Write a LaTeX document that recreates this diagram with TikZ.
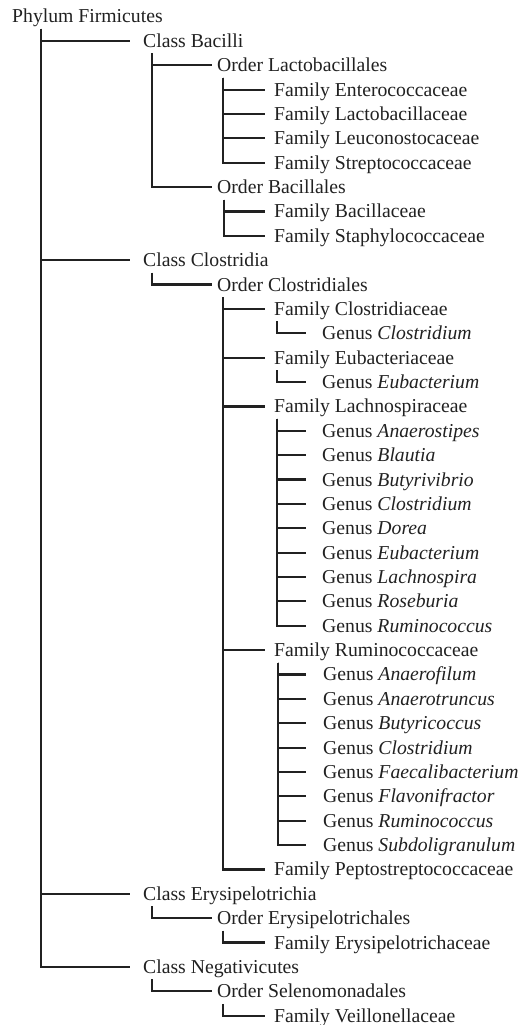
\documentclass[tikz,border=0pt]{standalone}
\usepackage{fontspec}
\setmainfont{Liberation Serif}
\definecolor{ink}{rgb}{0.13,0.13,0.13}
\begin{document}
\begin{tikzpicture}[x=1pt,y=-1pt,
  lbl/.style={anchor=base west,inner sep=0pt,text height=14pt,text depth=1pt,text=ink,
    font=\fontsize{19.7pt}{24pt}\selectfont},
  ln/.style={draw=ink,line width=2.2pt}]
\useasboundingbox (0,0) rectangle (530,1025);
\newcommand\tx[4]{\node[lbl] (#1) at (#2,{23+(#3-1)*24.37}) {#4};}
\newcommand\conn[4]{\draw[ln] ([shift={(#3,6)}]#1.base west) |- ([shift={(-#4,0)}]#2.west);}
% nodes
\tx{phy}{12}{1}{Phylum Firmicutes}
\tx{bac}{143}{2}{Class Bacilli}
\tx{lacto}{217}{3}{Order Lactobacillales}
\tx{f1}{274}{4}{Family Enterococcaceae}
\tx{f2}{274}{5}{Family Lactobacillaceae}
\tx{f3}{274}{6}{Family Leuconostocaceae}
\tx{f4}{274}{7}{Family Streptococcaceae}
\tx{bacl}{217}{8}{Order Bacillales}
\tx{f5}{274}{9}{Family Bacillaceae}
\tx{f6}{274}{10}{Family Staphylococcaceae}
\tx{clo}{143}{11}{Class Clostridia}
\tx{clol}{217}{12}{Order Clostridiales}
\tx{fc}{274}{13}{Family Clostridiaceae}
\tx{g1}{322}{14}{Genus \textit{Clostridium}}
\tx{fe}{274}{15}{Family Eubacteriaceae}
\tx{g2}{322}{16}{Genus \textit{Eubacterium}}
\tx{fl}{274}{17}{Family Lachnospiraceae}
\tx{l1}{322}{18}{Genus \textit{Anaerostipes}}
\tx{l2}{322}{19}{Genus \textit{Blautia}}
\tx{l3}{322}{20}{Genus \textit{Butyrivibrio}}
\tx{l4}{322}{21}{Genus \textit{Clostridium}}
\tx{l5}{322}{22}{Genus \textit{Dorea}}
\tx{l6}{322}{23}{Genus \textit{Eubacterium}}
\tx{l7}{322}{24}{Genus \textit{Lachnospira}}
\tx{l8}{322}{25}{Genus \textit{Roseburia}}
\tx{l9}{322}{26}{Genus \textit{Ruminococcus}}
\tx{fr}{274}{27}{Family Ruminococcaceae}
\tx{r1}{323}{28}{Genus \textit{Anaerofilum}}
\tx{r2}{323}{29}{Genus \textit{Anaerotruncus}}
\tx{r3}{323}{30}{Genus \textit{Butyricoccus}}
\tx{r4}{323}{31}{Genus \textit{Clostridium}}
\tx{r5}{323}{32}{Genus \textit{Faecalibacterium}}
\tx{r6}{323}{33}{Genus \textit{Flavonifractor}}
\tx{r7}{323}{34}{Genus \textit{Ruminococcus}}
\tx{r8}{323}{35}{Genus \textit{Subdoligranulum}}
\tx{fp}{274}{36}{Family Peptostreptococcaceae}
\tx{ery}{143}{37}{Class Erysipelotrichia}
\tx{eryl}{217}{38}{Order Erysipelotrichales}
\tx{fery}{274}{39}{Family Erysipelotrichaceae}
\tx{neg}{143}{40}{Class Negativicutes}
\tx{sel}{217}{41}{Order Selenomonadales}
\tx{fv}{274}{42}{Family Veillonellaceae}
% connectors
\foreach \c in {bac,clo,ery,neg} {\conn{phy}{\c}{29}{13}}
\foreach \c in {lacto,bacl} {\conn{bac}{\c}{9}{5}}
\foreach \c in {f1,f2,f3,f4} {\conn{lacto}{\c}{6}{9}}
\foreach \c in {f5,f6} {\conn{bacl}{\c}{7}{9}}
\conn{clo}{clol}{9}{5}
\foreach \c in {fc,fe,fl,fr,fp} {\conn{clol}{\c}{6}{9}}
\conn{fc}{g1}{3}{16}
\conn{fe}{g2}{3}{16}
\foreach \c in {l1,l2,l3,l4,l5,l6,l7,l8,l9} {\conn{fl}{\c}{3}{16}}
\foreach \c in {r1,r2,r3,r4,r5,r6,r7,r8} {\conn{fr}{\c}{4}{17}}
\conn{ery}{eryl}{9}{5}
\conn{eryl}{fery}{6}{9}
\conn{neg}{sel}{9}{5}
\conn{sel}{fv}{6}{9}
\end{tikzpicture}
\end{document}
